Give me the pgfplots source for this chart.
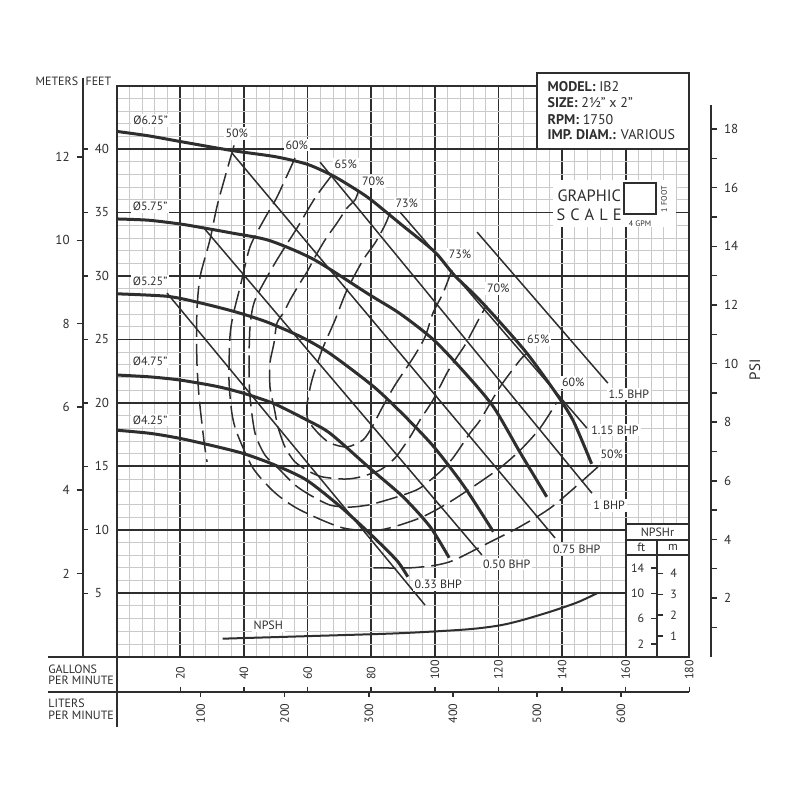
\documentclass[border=0pt]{standalone}
\usepackage{fontspec}
\setmainfont{PT Sans}
\usepackage{pgfplots}
\pgfplotsset{compat=1.18}
\definecolor{ink}{HTML}{2E2E2E}
\definecolor{minorgrid}{HTML}{CACACA}
\begin{document}
\begin{tikzpicture}
\useasboundingbox (-58.35pt,-71.65pt) rectangle (341.65pt,328.35pt);
\tikzset{
  lbl/.style={font=\fontsize{6}{7}\selectfont, text=ink, fill=white, inner sep=1pt},
  txt/.style={font=\fontsize{6}{7}\selectfont, text=ink, inner sep=0pt},
}
\pgfplotsset{
  every tick label/.append style={font=\fontsize{6.5}{7}\selectfont, text=ink},
  /pgf/number format/assume math mode=true,
  imp/.style={draw=ink, line width=1.5pt, smooth, tension=0.45, no markers},
  eff/.style={draw=ink, line width=0.75pt, smooth, tension=0.45, dash pattern=on 11pt off 3.5pt, no markers},
  bhp/.style={draw=ink, line width=0.75pt, no markers},
  npsh/.style={draw=ink, line width=1pt, smooth, tension=0.45, no markers},
  aux/.style={scale only axis, axis line style={line width=0.9pt, draw=ink},
    tick style={line width=0.7pt, draw=ink}, tick align=outside,
    major tick length=3pt, minor tick length=3pt},
}
% ---------------- main chart ----------------
\begin{axis}[
  name=main, at={(0pt,0pt)}, anchor=south west,
  scale only axis, width=286.3pt, height=285.5pt,
  xmin=0, xmax=180, ymin=0, ymax=45,
  xtick={0,20,...,180}, ytick={0,5,...,45},
  minor x tick num=4, minor y tick num=4,
  xticklabels={}, yticklabels={},
  ticklabel style={opacity=0},
  major tick length=0pt, minor tick length=0pt,
  grid=both,
  major grid style={line width=0.9pt, draw=ink},
  minor grid style={line width=0.45pt, draw=minorgrid},
  axis line style={line width=1pt, draw=ink},
  clip=false,
]
% white knock-outs
\fill[white] (axis cs:160.01,0) rectangle (axis cs:180,10.46);
\fill[white] (axis cs:137.2,37.57) rectangle (axis cs:175.8,33.89);

% impeller curves
\addplot[imp] coordinates {(0,41.4) (10,41.05) (20,40.6) (36,39.9) (50,39.4) (60,38.8) (68,37.9) (75,36.85) (80,36.0) (90,33.95) (100,31.9) (106,30.1) (113,28.4) (120,26.5) (129,23.9) (138,20.8) (143.5,18.6) (149.3,15.2)};
\addplot[imp] coordinates {(0,34.5) (10,34.4) (20,34.1) (26,33.85) (36,33.4) (48,32.8) (62,31.3) (79,28.6) (89,27.05) (99.5,25.0) (109,22.5) (118.4,19.7) (126.8,16.1) (135.2,12.6)};
\addplot[imp] coordinates {(0,28.6) (16,28.4) (26,27.9) (37,27.2) (47,26.4) (58,25.2) (67,23.9) (80.7,21.3) (90,19.1) (99.5,16.6) (109,13.5) (118.4,9.85)};
\addplot[imp] coordinates {(0,22.2) (10.6,22.05) (20,21.8) (31.5,21.3) (40,20.75) (49.4,19.95) (59.8,18.65) (67.1,17.6) (79.6,14.85) (90,12.6) (98.5,10.25) (104.5,7.8)};
\addplot[imp] coordinates {(0,17.85) (10.6,17.6) (20,17.2) (31.5,16.55) (40,16.0) (49.3,15.15) (59.5,13.95) (70.2,11.85) (79.6,9.7) (88,7.6) (91.5,6.3)};

% efficiency contours
\addplot[eff] coordinates {(36.9,40.3) (31.8,35.76) (29.3,32.84) (26.2,29.92) (25.2,27.09) (25.2,23.39) (25.9,20.47) (27.4,17.08) (28.4,15.35)};
\addplot[eff] coordinates {(80.7,7.0) (92,7.0) (100,7.2) (106,7.6) (116.3,8.9) (126.8,10.25) (137.3,11.9) (151.9,15.1)};
\addplot[eff] coordinates {(56.05,39.30) (50.4,36.23) (46.6,34.57) (41.9,32.29) (38.8,29.14) (36.6,26.93) (35.6,25.2) (35.3,21.81) (36.2,19.21) (37.8,17.63) (42.8,14.88) (49.8,12.91) (57.6,11.57) (71.1,10.15) (82.8,9.99) (95.3,10.93) (105.7,12.35) (119.6,14.71) (126.9,16.29) (133.1,18.02) (138.4,20.07)};
\addplot[eff] coordinates {(67.68,37.96) (62.34,36.15) (56.68,33.78) (49.76,31.02) (43.48,28.11) (41.91,25.98) (41.59,22.83) (41.91,20.46) (43.48,17.63) (46.62,15.89) (51.34,14.71) (56.05,13.53) (60.77,12.74) (67.06,11.95) (73.34,11.79) (79.0,11.95) (82.77,12.19) (90.0,12.74) (95.35,13.29) (101.6,14.56) (105.7,15.66) (111.1,17.63) (114.3,18.66) (120.5,21.26) (126.8,23.38) (129.0,23.93)};
\addplot[eff] coordinates {(76.0,36.7) (74.91,35.99) (72.40,35.36) (69.25,34.18) (65.48,32.84) (62.34,31.50) (59.82,30.32) (57.62,29.45) (54.48,28.11) (52.59,27.16) (50.39,26.30) (49.45,24.72) (48.19,23.15) (48.19,21.26) (49.45,19.68) (50.71,18.10) (52.91,16.53) (56.05,15.35) (60.77,14.56) (64.86,14.16) (71.77,14.00) (76.49,14.16) (82.77,14.71) (87.49,15.66) (92.20,17.31) (95.35,18.66) (99.43,20.23) (103.83,22.36) (106.98,23.62) (109.5,24.56) (111.7,25.59) (114.2,26.77) (116.3,27.7)};
\addplot[eff] coordinates {(85.92,34.97) (84.34,34.02) (81.20,32.60) (77.43,31.26) (72.40,28.90) (68.63,26.53) (64.54,24.17) (61.40,21.81) (59.82,19.84) (60.14,18.66) (63.28,17.63) (67.06,16.84) (72.40,16.53) (77.43,17.08) (80.26,18.10) (83.40,19.60) (87.49,21.41) (93.15,23.54) (96.92,25.20) (99.43,27.09) (102.6,28.66) (105.4,30.48)};

% BHP lines
\addplot[bhp] coordinates {(15.82,28.66) (96.92,4.07)};
\addplot[bhp] coordinates {(27.13,33.87) (114.8,8.02)};
\addplot[bhp] coordinates {(36.25,39.69) (137.8,9.36)};
\addplot[bhp] coordinates {(63.91,38.98) (149.4,12.89)};
\addplot[bhp] coordinates {(89.06,35.04) (147.8,18.02)};
\addplot[bhp] coordinates {(113.3,33.46) (154.4,21.56)};

% NPSH required (plotted at half scale)
\addplot[npsh] coordinates {(33.3,1.42) (60,1.62) (89,1.85) (110,2.15) (120,2.45) (127,2.85) (137,3.6) (145,4.3) (151,5.0)};

% labels
\node[lbl] at (axis cs:10.7,42.24) {Ø6.25"};
\node[lbl] at (axis cs:10.5,35.46) {Ø5.75"};
\node[lbl] at (axis cs:10.5,29.55) {Ø5.25"};
\node[lbl] at (axis cs:10.5,23.25) {Ø4.75"};
\node[lbl] at (axis cs:10.5,18.65) {Ø4.25"};
\node[lbl] at (axis cs:37.72,41.25) {50\%};
\node[lbl] at (axis cs:56.59,40.33) {60\%};
\node[lbl] at (axis cs:71.99,38.83) {65\%};
\node[lbl] at (axis cs:80.67,37.43) {70\%};
\node[lbl] at (axis cs:91.17,35.73) {73\%};
\node[lbl] at (axis cs:107.92,31.71) {73\%};
\node[lbl] at (axis cs:119.96,29.03) {70\%};
\node[lbl] at (axis cs:132.53,25.01) {65\%};
\node[lbl] at (axis cs:143.54,21.63) {60\%};
\node[lbl] at (axis cs:155.61,15.95) {50\%};
\node[lbl] at (axis cs:161.0,20.70) {1.5 BHP};
\node[lbl] at (axis cs:156.65,17.87) {1.15 BHP};
\node[lbl] at (axis cs:154.82,11.90) {1 BHP};
\node[lbl] at (axis cs:144.61,8.49) {0.75 BHP};
\node[lbl] at (axis cs:122.6,7.31) {0.50 BHP};
\node[lbl] at (axis cs:101.1,5.71) {0.33 BHP};
\node[lbl] at (axis cs:47.66,2.47) {NPSH};

% model box
\filldraw[fill=white, draw=ink, line width=0.9pt] (axis cs:132.03,40) rectangle (axis cs:180,45.98);
\node[txt, anchor=west, font=\fontsize{7}{8}\selectfont] at (axis cs:135.36,44.92) {\textbf{MODEL:} IB2};
\node[txt, anchor=west, font=\fontsize{7}{8}\selectfont] at (axis cs:135.36,43.66) {\textbf{SIZE:} 2½" x 2"};
\node[txt, anchor=west, font=\fontsize{7}{8}\selectfont] at (axis cs:135.36,42.35) {\textbf{RPM:} 1750};
\node[txt, anchor=west, font=\fontsize{7}{8}\selectfont] at (axis cs:135.36,41.11) {\textbf{IMP. DIAM.:} VARIOUS};

% graphic scale
\draw[ink, line width=0.9pt] (axis cs:159.57,37.31) rectangle (axis cs:169.44,34.89);
\node[txt, font=\fontsize{8.2}{9}\selectfont] at (axis cs:148.57,36.33) {GRAPHIC};
\node[txt, font=\fontsize{8.2}{9}\selectfont] at (axis cs:148.5,34.86) {S\hspace{2.5pt}C\hspace{2.5pt}A\hspace{2.5pt}L\hspace{2.5pt}E};
\node[txt, font=\fontsize{4}{5}\selectfont, rotate=90] at (axis cs:172.05,36.05) {1 FOOT};
\node[txt, font=\fontsize{4}{5}\selectfont] at (axis cs:164.5,34.16) {4 GPM};

% NPSHr table
\draw[ink, line width=0.9pt] (axis cs:160.01,0) rectangle (axis cs:180,10.46);
\draw[ink, line width=0.9pt] (axis cs:160.01,9.20) -- (axis cs:180,9.20);
\draw[ink, line width=0.9pt] (axis cs:160.01,8.02) -- (axis cs:180,8.02);
\draw[ink, line width=0.9pt] (axis cs:169.94,0) -- (axis cs:169.94,9.20);
\node[txt] at (axis cs:170.0,9.83) {NPSHr};
\node[txt] at (axis cs:164.9,8.61) {ft};
\node[txt] at (axis cs:174.9,8.61) {m};

% frame extensions and outside texts
\draw[ink, line width=1pt] (axis cs:-21.6,0) -- (axis cs:0,0);
\draw[ink, line width=1pt] (axis cs:-21.6,-2.758) -- (axis cs:180,-2.758);
\draw[ink, line width=1pt] (axis cs:0,0) -- (axis cs:0,-5.517);
\node[txt, anchor=west] at (axis cs:-21.6,-0.99) {GALLONS};
\node[txt, anchor=west] at (axis cs:-21.6,-1.84) {PER MINUTE};
\node[txt, anchor=west] at (axis cs:-21.6,-3.67) {LITERS};
\node[txt, anchor=west] at (axis cs:-21.6,-4.60) {PER MINUTE};
\node[txt, anchor=east] at (axis cs:-12.0,45.32) {METERS};
\node[txt, anchor=west] at (axis cs:-9.9,45.32) {FEET};
\node[txt, rotate=90, font=\fontsize{7.5}{8}\selectfont] at (axis cs:200.6,22.6) {PSI};
\end{axis}

% ---------------- feet scale ----------------
\begin{axis}[aux, at={(-17pt,0pt)}, anchor=south east, width=5pt, height=289.35pt,
  xmin=0, xmax=1, ymin=0, ymax=45.6, axis y line*=right, axis x line=none, xtick=\empty,
  ytick={5,10,...,40}, major tick length=2.5pt]
\end{axis}
% ---------------- meters scale ----------------
\begin{axis}[aux, at={(-17pt,0pt)}, anchor=south west, width=5pt, height=289.35pt,
  xmin=0, xmax=1, ymin=0, ymax=13.899, axis y line*=left, axis x line=none, xtick=\empty,
  ytick={2,4,...,12}]
\end{axis}
% ---------------- PSI scale ----------------
\begin{axis}[aux, at={(297.15pt,0pt)}, anchor=south east, width=5pt, height=275.85pt,
  xmin=0, xmax=1, ymin=0, ymax=18.82, axis y line*=right, axis x line=none, xtick=\empty,
  ytick={2,4,...,18}, minor ytick={1,3,...,17}]
\end{axis}
% ---------------- GPM scale ----------------
\begin{axis}[aux, at={(0pt,-17.5pt)}, anchor=north west, width=286.3pt, height=5pt,
  xmin=0, xmax=180, ymin=0, ymax=1, axis x line*=top, axis y line=none, ytick=\empty,
  xtick={20,40,...,180}, major tick length=2.5pt,
  xticklabel style={rotate=90, anchor=west, font=\fontsize{6}{7}\selectfont}]
\end{axis}
% ---------------- LPM scale ----------------
\begin{axis}[aux, at={(0pt,-17.5pt)}, anchor=south west, width=286.3pt, height=5pt,
  xmin=0, xmax=681.37, ymin=0, ymax=1, axis x line*=bottom, axis y line=none, ytick=\empty,
  xtick={100,200,...,600}, major tick length=2.5pt,
  xticklabel style={rotate=90, anchor=east, font=\fontsize{6}{7}\selectfont}]
\end{axis}
% ---------------- NPSHr ft scale ----------------
\begin{axis}[aux, at={(270.3pt,0pt)}, anchor=south west, width=5pt, height=50.85pt,
  xmin=0, xmax=1, ymin=0, ymax=16.03, axis y line*=left, axis x line=none, xtick=\empty,
  ytick={2,6,10,14}, yticklabel style={font=\fontsize{6}{7}\selectfont}]
\end{axis}
% ---------------- NPSHr m scale ----------------
\begin{axis}[aux, at={(270.3pt,0pt)}, anchor=south east, width=5pt, height=50.85pt,
  xmin=0, xmax=1, ymin=0, ymax=4.886, axis y line*=right, axis x line=none, xtick=\empty,
  ytick={1,2,3,4}, yticklabel style={font=\fontsize{6}{7}\selectfont}]
\end{axis}
\end{tikzpicture}
\end{document}
